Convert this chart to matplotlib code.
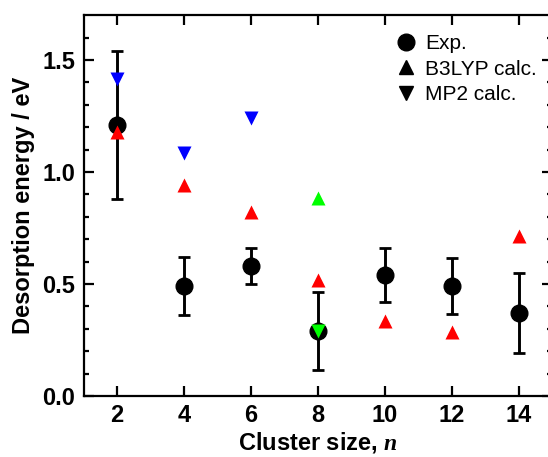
import matplotlib
matplotlib.use("Agg")
import matplotlib.pyplot as plt
from matplotlib.lines import Line2D

plt.rcParams['font.family'] = ['Liberation Sans', 'DejaVu Sans']
plt.rcParams['mathtext.fontset'] = 'custom'
plt.rcParams['mathtext.it'] = 'Liberation Serif:italic:bold'

# experimental desorption energies (eV) with error bars
exp_n = [2, 4, 6, 8, 10, 12, 14]
exp_e = [1.21, 0.49, 0.58, 0.29, 0.54, 0.49, 0.37]
exp_err = [0.33, 0.13, 0.08, 0.175, 0.12, 0.125, 0.18]

# B3LYP calculations
b3lyp_n = [2, 4, 6, 8, 8, 10, 12, 14]
b3lyp_e = [1.18, 0.94, 0.82, 0.52, 0.885, 0.335, 0.285, 0.715]
b3lyp_col = ['red', 'red', 'red', 'red', '#00ff00', 'red', 'red', 'red']

# MP2 calculations
mp2_n = [2, 4, 6, 8]
mp2_e = [1.415, 1.085, 1.24, 0.29]
mp2_col = ['blue', 'blue', 'blue', '#00ff00']

fig = plt.figure(figsize=(5.48, 4.57), dpi=100)
ax = fig.add_axes([0.1524, 0.1335, 0.8558, 0.8332])

ax.errorbar(exp_n, exp_e, yerr=exp_err, fmt='o', color='black', ms=12,
            elinewidth=2.1, capsize=4, capthick=2.0, zorder=2)
for n, e, c in zip(b3lyp_n, b3lyp_e, b3lyp_col):
    ax.plot(n, e, '^', color=c, ms=10.5, mec='none', zorder=3)
for n, e, c in zip(mp2_n, mp2_e, mp2_col):
    ax.plot(n, e, 'v', color=c, ms=10.5, mec='none', zorder=3)

ax.set_xlim(1, 15)
ax.set_ylim(0, 1.7)
ax.set_xticks([2, 4, 6, 8, 10, 12, 14])
ax.set_yticks([0.0, 0.5, 1.0, 1.5])
ax.set_yticks([i / 10 for i in range(0, 17)], minor=True)
ax.set_yticklabels(['0.0', '0.5', '1.0', '1.5'])

for s in ax.spines.values():
    s.set_linewidth(1.6)
ax.tick_params(which='both', direction='in', top=True, right=True, width=1.6)
ax.tick_params(which='major', length=7, labelsize=17, pad=6)
ax.tick_params(which='minor', length=3.5)
ax.tick_params(axis='x', which='minor', top=False, bottom=False)
for lab in ax.get_xticklabels() + ax.get_yticklabels():
    lab.set_fontweight('bold')

ax.set_xlabel('Cluster size, $\\mathit{n}$', fontsize=17, fontweight='bold', labelpad=2)
ax.set_ylabel('Desorption energy / eV', fontsize=17, fontweight='bold', labelpad=5)

handles = [
    Line2D([], [], ls='none', marker='o', color='black', ms=12),
    Line2D([], [], ls='none', marker='^', color='black', ms=10.5),
    Line2D([], [], ls='none', marker='v', color='black', ms=10.5),
]
ax.legend(handles, ['Exp.', 'B3LYP calc.', 'MP2 calc.'], loc='upper left',
          bbox_to_anchor=(0.647, 0.977), frameon=False, fontsize=15,
          handlelength=0.8, handletextpad=0.55, labelspacing=0.3, borderpad=0)

fig.savefig('out.png', dpi=100)
